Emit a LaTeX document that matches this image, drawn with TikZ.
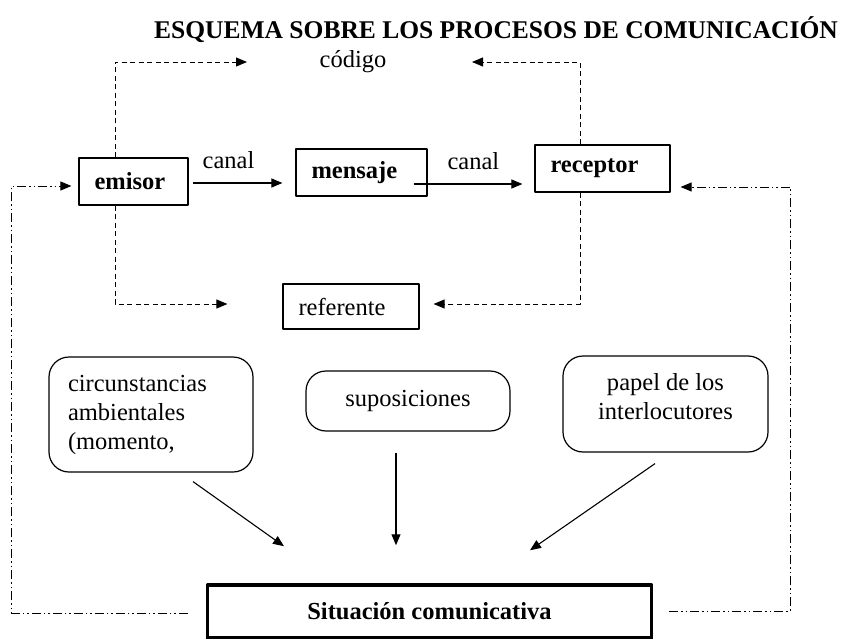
\documentclass[tikz,border=0pt]{standalone}
\usepackage{fontspec}
\setmainfont{Liberation Serif}
\usetikzlibrary{arrows.meta}

\begin{document}
\begin{tikzpicture}[x=1pt,y=-1pt,>={Triangle[length=11pt,width=9pt]}, line join=round, font=\fontsize{24.5}{29}\selectfont]
			\tikzset{caja/.style={draw,line width=1.2pt,inner xsep=15.5pt,inner ysep=0pt,align=left},
				globo/.style={draw,line width=1.2pt,rounded corners=20pt,inner ysep=0pt},
				negrita/.style={font=\fontsize{24.5}{29}\selectfont\bfseries},
				discont/.style={->,line width=0.9pt,dash pattern=on 5pt off 3.5pt},
				retro/.style={->,line width=0.9pt,dash pattern=on 9pt off 3pt on 1.5pt off 3pt on 1.5pt off 3pt},
				flecha/.style={->,line width=1.1pt},
				rotulo/.style={inner sep=3pt,above=11pt}}
			\useasboundingbox (0,0) rectangle (845,639);
			\node[font=\fontsize{25.5}{29}\selectfont\bfseries] (titulo) at (496,30) {ESQUEMA SOBRE LOS PROCESOS DE COMUNICACIÓN};
			\node (codigo) at (353,62) {código};
			\node[caja,negrita,text width=78pt,minimum height=47pt] (emisor) at (133.5,181.5) {emisor};
			\node[caja,negrita,text width=100pt,minimum height=47pt] (mensaje) at (361.5,172.5) {mensaje};
			\node[caja,negrita,text width=104pt,minimum height=47pt] (receptor) at (602.5,168.5) {receptor};
			\node[caja,text width=105pt,minimum height=45pt] (referente) at (351,306.5) {referente};
			\node[globo,inner xsep=19pt,text width=166pt,minimum height=115pt,align=left] (circ) at (151,414.5) {circunstancias\\ambientales\\(momento,};
			\node[globo,minimum width=204pt,minimum height=60pt,align=center] (sup) at (408,401) {suposiciones};
			\node[globo,minimum width=205pt,minimum height=96pt,align=center,text depth=15pt] (papel) at (665.5,404) {papel de los\\interlocutores};
			\node[draw,line width=3.5pt,negrita,minimum width=444pt,minimum height=53pt] (sit) at (429.5,611.5) {Situación comunicativa};
			\draw[flecha] ([xshift=4pt,yshift=-1.5pt]emisor.east) -- node[rotulo,pos=0.4]{canal} ([xshift=-13pt,yshift=-10.5pt]mensaje.west);
			\draw[flecha] ([xshift=-14pt,yshift=-11.5pt]mensaje.east) -- node[rotulo,pos=0.55]{canal} ([xshift=-12pt,yshift=-15.5pt]receptor.west);
			\draw[discont] ([xshift=-18.5pt]emisor.north) |- ([xshift=-106pt]codigo.center);
			\draw[discont] ([xshift=-22.5pt]receptor.north) |- ([xshift=119pt]codigo.center);
			\draw[discont] ([xshift=-18.5pt]emisor.south) |- ([xshift=-55pt,yshift=2.5pt]referente.west);
			\draw[discont] ([xshift=-22.5pt]receptor.south) |- ([xshift=14pt,yshift=2.5pt]referente.east);
			\draw[retro] ([xshift=-18pt,yshift=-1.5pt]sit.west) -| ([xshift=-67pt,yshift=-4.5pt]emisor.west) -- ([xshift=-7pt,yshift=-4.5pt]emisor.west);
			\draw[retro] ([xshift=16pt,yshift=0.5pt]sit.east) -| ([xshift=120pt,yshift=-18.5pt]receptor.east) -- ([xshift=10pt,yshift=-18.5pt]receptor.east);
			\draw[flecha] ([xshift=42pt,yshift=-9pt]circ.south) -- ([xshift=-145.5pt,yshift=37pt]sit.north);
			\draw[flecha] ([xshift=-12pt,yshift=-21pt]sup.south) -- ([xshift=-33.5pt,yshift=38pt]sit.north);
			\draw[flecha] ([xshift=-10.5pt,yshift=-11pt]papel.south) -- ([xshift=100.5pt,yshift=33pt]sit.north);
		\end{tikzpicture}
\end{document}
